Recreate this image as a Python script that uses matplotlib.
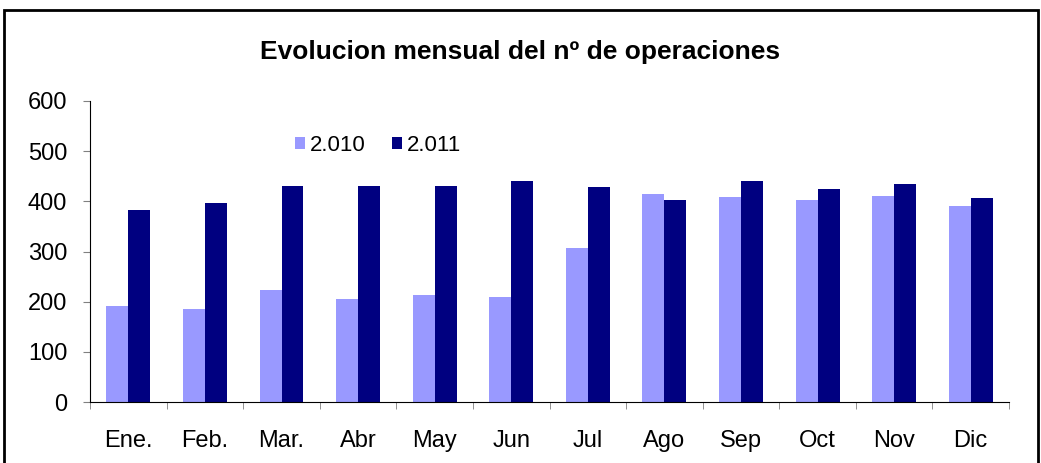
import matplotlib.pyplot as plt
import numpy as np
from matplotlib.patches import Rectangle

# Data
months = ['Ene.', 'Feb.', 'Mar.', 'Abr', 'May', 'Jun', 'Jul', 'Ago', 'Sep', 'Oct', 'Nov', 'Dic']
ops_2010 = [192, 186, 224, 206, 213, 209, 307, 415, 409, 402, 410, 391]
ops_2011 = [383, 396, 431, 431, 431, 440, 428, 402, 440, 424, 435, 407]

plt.rcParams['font.family'] = ['Liberation Sans', 'DejaVu Sans']

fig = plt.figure(figsize=(10.41, 4.63), dpi=100, facecolor='white')
ax = fig.add_axes([0.0865, 0.1317, 0.8828, 0.6502])

x = np.arange(len(months))
w = 0.287
ax.bar(x - w / 2, ops_2010, w, color='#9999FF', label='2.010')
ax.bar(x + w / 2, ops_2011, w, color='#000080', label='2.011')

ax.set_xlim(-0.5, len(months) - 0.5)
ax.set_ylim(0, 600)
ax.set_yticks(range(0, 601, 100))
ax.tick_params(axis='y', labelsize=17, length=5, direction='out', color='#808080', pad=11.5)

# category labels centred, ticks between categories
ax.set_xticks(x)
ax.set_xticklabels(months)
ax.set_xticks(np.arange(-0.5, len(months)), minor=True)
ax.tick_params(axis='x', which='major', length=0, labelsize=17, pad=20)
ax.tick_params(axis='x', which='minor', length=5, direction='out', color='#808080')

for s in ['top', 'right']:
    ax.spines[s].set_visible(False)
ax.spines['left'].set_color('black')
ax.spines['bottom'].set_color('black')

ax.legend(loc='upper left', bbox_to_anchor=(0.223, 0.888), ncol=2, frameon=False,
          fontsize=16, handlelength=0.45, handleheight=0.45, handletextpad=0.23,
          columnspacing=1.17, borderpad=0, borderaxespad=0)

fig.text(0.5, 0.888, 'Evolucion mensual del nº de operaciones', ha='center', va='center',
         fontsize=19, fontweight='bold')

# outer chart frame
fig.patches.append(Rectangle((4 / 1041, -0.05), 1034 / 1041, 1.05 - 10 / 463,
                             transform=fig.transFigure, fill=False, lw=2,
                             edgecolor='black'))

fig.savefig('out.png', dpi=100)
